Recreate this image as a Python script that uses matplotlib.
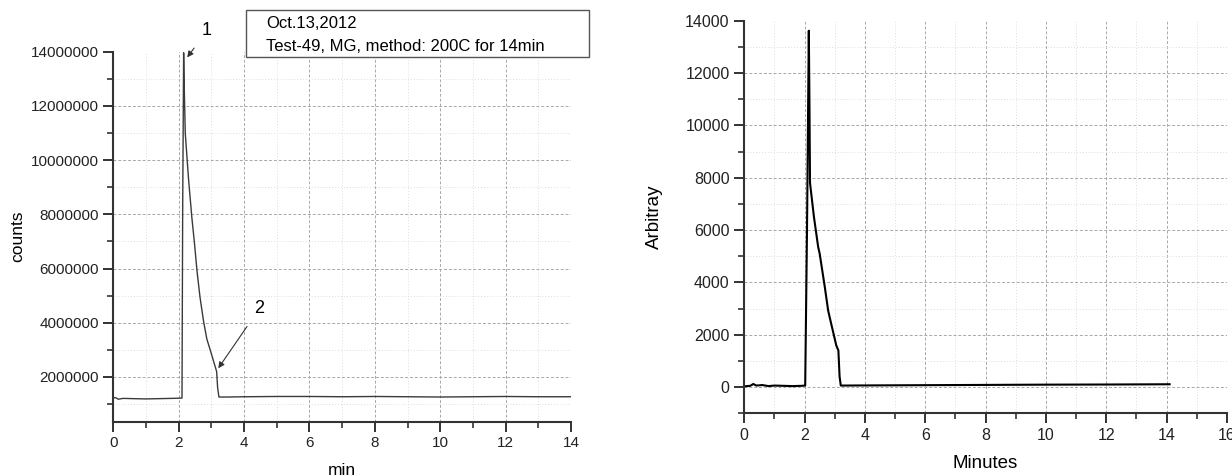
import matplotlib
matplotlib.use("Agg")
import matplotlib.pyplot as plt
from matplotlib.ticker import MultipleLocator, FormatStrFormatter
from matplotlib.patches import Rectangle

plt.rcParams['font.family'] = ['Liberation Sans', 'DejaVu Sans']

# left chromatogram (counts vs min)
t_left = [0.0, 0.08, 0.15, 0.3, 0.6, 1.0, 1.4, 1.8, 2.1, 2.12, 2.15, 2.17, 2.2,
          2.3, 2.4, 2.48, 2.56, 2.65, 2.76, 2.86, 3.0, 3.11, 3.16, 3.19, 3.23,
          3.5, 4.0, 5.0, 6.0, 7.0, 8.0, 9.0, 10.0, 11.0, 12.0, 13.0, 14.0]
counts = [1.24e6, 1.23e6, 1.18e6, 1.21e6, 1.20e6, 1.19e6, 1.20e6, 1.21e6, 1.22e6,
          8.0e6, 13.96e6, 12.6e6, 10.99e6,
          9.3e6, 7.9e6, 6.95e6, 5.9e6, 4.95e6, 4.05e6, 3.4e6, 2.85e6, 2.4e6, 2.2e6, 1.6e6, 1.26e6,
          1.26e6, 1.27e6, 1.28e6, 1.28e6, 1.27e6, 1.28e6, 1.27e6, 1.26e6, 1.27e6, 1.28e6, 1.27e6, 1.27e6]

# right chromatogram (Arbitray vs Minutes)
t_right = [0.0, 0.2, 0.3, 0.4, 0.6, 0.8, 1.0, 1.3, 1.6, 1.9, 2.02, 2.08, 2.14, 2.16, 2.18,
           2.31, 2.45, 2.5, 2.67, 2.78, 2.83, 3.05, 3.12, 3.16, 3.2, 4.0, 6.0, 8.0,
           10.0, 12.0, 14.1]
arbitray = [30, 50, 120, 60, 80, 40, 60, 50, 40, 50, 60, 6000, 13617, 11000, 7800,
            6502, 5355, 5102, 3825, 2934, 2678, 1595, 1400, 400, 60, 65, 75, 85,
            95, 100, 110]

fig = plt.figure(figsize=(12.32, 4.76), dpi=100)
ax1 = fig.add_axes([0.092, 0.1141, 0.3715, 0.7773])
ax2 = fig.add_axes([0.6041, 0.1317, 0.3918, 0.8248])


def style(ax, xmaj, ymaj, ymin_tick, lsize):
    for s in ['top', 'right']:
        ax.spines[s].set_visible(False)
    for s in ['left', 'bottom']:
        ax.spines[s].set_linewidth(1.5)
        ax.spines[s].set_color('#333333')
    ax.xaxis.set_major_locator(MultipleLocator(xmaj))
    ax.xaxis.set_minor_locator(MultipleLocator(xmaj / 2))
    ax.yaxis.set_major_locator(MultipleLocator(ymaj))
    ax.yaxis.set_minor_locator(MultipleLocator(ymin_tick))
    ax.yaxis.set_major_formatter(FormatStrFormatter('%d'))
    ax.tick_params(which='major', direction='out', length=7, width=1.4,
                   color='#333333', labelsize=lsize, labelcolor='#222222')
    ax.tick_params(which='minor', direction='out', length=4, width=1.2, color='#333333')
    ax.grid(which='major', linestyle=(0, (3, 2)), color='#a8a8a8', lw=0.7)
    ax.grid(which='minor', linestyle=(0, (1, 2)), color='#dddddd', lw=0.7)
    ax.set_axisbelow(True)


style(ax1, 2, 2000000, 1000000, 11)
ax1.set_xlim(0, 14)
ax1.set_ylim(350000, 14000000)
ax1.plot(t_left, counts, color='#3a3a3a', lw=1.0)
ax1.set_xlabel('min', fontsize=12.5, labelpad=9)
ax1.set_ylabel('counts', fontsize=12.5, labelpad=4)

ax1.annotate('1', xy=(2.26, 13.79e6), xytext=(2.86, 14.77e6), fontsize=13,
             ha='center', va='center', annotation_clip=False,
             arrowprops=dict(arrowstyle='-|>', color='#333333', lw=0.8,
                             mutation_scale=9, shrinkA=6, shrinkB=0))
ax1.annotate('2', xy=(3.21, 2.32e6), xytext=(4.47, 4.53e6), fontsize=13,
             ha='center', va='center', annotation_clip=False,
             arrowprops=dict(arrowstyle='-|>', color='#333333', lw=0.8,
                             mutation_scale=9, shrinkA=6, shrinkB=0))

# info box
fig.patches.append(Rectangle((246 / 1232, 1 - 57 / 476), (589 - 246) / 1232, 47 / 476,
                             transform=fig.transFigure, fill=True, facecolor='white',
                             edgecolor='#555555', lw=1.0, zorder=5))
fig.text(266 / 1232, 1 - 24 / 476, 'Oct.13,2012', fontsize=12, va='center', zorder=6)
fig.text(266 / 1232, 1 - 46.5 / 476, 'Test-49, MG, method: 200C for 14min',
         fontsize=12, va='center', zorder=6)

style(ax2, 2, 2000, 1000, 11.5)
ax2.set_xlim(0, 16)
ax2.set_ylim(-1000, 14000)
ax2.plot(t_right, arbitray, color='black', lw=1.5)
ax2.set_xlabel('Minutes', fontsize=13.5, labelpad=9)
ax2.set_ylabel('Arbitray', fontsize=13.5, labelpad=16)

# hide gridlines sitting on the axis limits (ticks need a draw to get their positions)
fig.canvas.draw()
for ax in (ax1, ax2):
    x0, x1 = ax.get_xlim()
    y0, y1 = ax.get_ylim()
    for tick in ax.xaxis.get_major_ticks() + ax.xaxis.get_minor_ticks():
        if tick.get_loc() <= x0 or tick.get_loc() >= x1:
            tick.gridline.set_visible(False)
    for tick in ax.yaxis.get_major_ticks() + ax.yaxis.get_minor_ticks():
        if tick.get_loc() <= y0 or tick.get_loc() >= y1:
            tick.gridline.set_visible(False)

fig.savefig('out.png', dpi=100)
